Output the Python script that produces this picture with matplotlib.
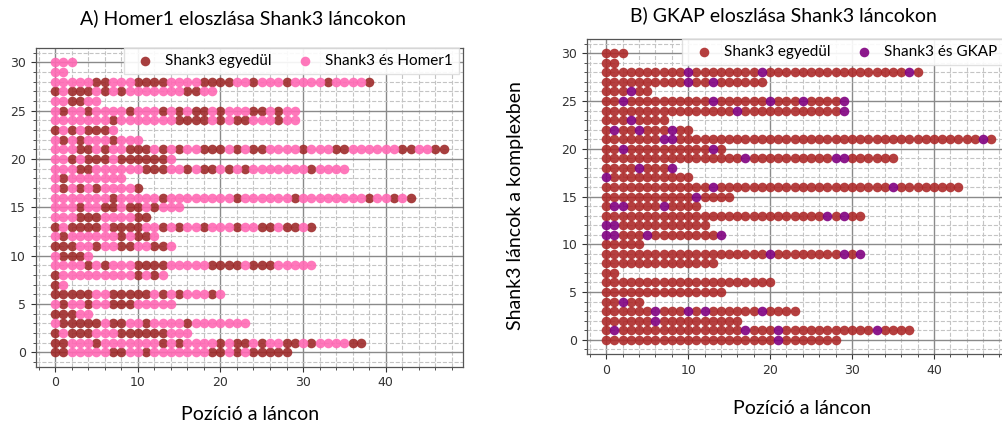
import matplotlib
matplotlib.use("Agg")
import matplotlib.pyplot as plt
from matplotlib.ticker import MultipleLocator, AutoMinorLocator

# ---------------- data ----------------
chain_rows = list(range(31))
# number of Shank3 units in each chain (positions 0 .. length-1)
chain_lengths = [29, 38, 17, 24, 5, 15, 21, 2, 14, 32, 5, 15, 13, 32, 12, 16,
                 44, 11, 9, 36, 15, 48, 11, 8, 30, 30, 6, 20, 39, 2, 3]

# Panel A: positions where Shank3 is alone (no Homer1), per chain row
homer_alone_pos = [
    [0, 1, 7, 8, 11, 19, 20, 22, 24, 25, 26, 27, 28],
    [0, 1, 5, 13, 15, 20, 22, 23, 25, 28, 29, 31, 36, 37],
    [0, 2, 3, 4, 8, 9, 10, 11, 12, 13],
    [1, 2, 3, 4, 5, 7, 8, 11, 16],
    [0, 1, 2],
    [1, 4, 7, 8, 9],
    [0, 1, 2, 3, 4, 7, 8, 9, 10, 11, 13, 15, 19],
    [0],
    [0, 10, 12],
    [4, 6, 10, 11, 12, 13, 19, 20, 21, 22, 24, 25, 26],
    [1, 2, 3],
    [0, 1, 2, 5, 8, 9, 12, 13],
    [1, 8, 10, 11],
    [0, 2, 3, 4, 5, 7, 8, 9, 10, 13, 15, 18, 22, 25, 26, 28, 29, 31],
    [3, 4, 5, 10, 11],
    [3, 6, 7, 9, 10, 12],
    [7, 13, 22, 29, 38, 41, 43],
    [1, 3, 5, 10],
    [1],
    [3, 4, 11, 12, 13, 16, 18, 19, 21, 23, 31],
    [2, 4, 5, 6, 8, 9, 10, 11, 12, 13],
    [3, 4, 6, 9, 10, 11, 13, 15, 18, 19, 20, 22, 24, 25, 30, 34, 35, 42, 43, 46, 47],
    [1, 3, 7],
    [0, 2, 4, 5, 6],
    [7, 15, 16, 17, 18, 20, 22, 23, 27],
    [1, 4, 9, 13, 15, 17, 18, 20, 24, 25, 27],
    [2, 3],
    [0, 2, 3, 4, 6, 8, 16, 17],
    [5, 6, 10, 11, 12, 13, 18, 19, 20, 21, 24, 28, 33, 38],
    [],
    [],
]

# Panel B: positions where Shank3 is bound to GKAP, per chain row
gkap_bound_pos = [
    [21],
    [1, 17, 21, 33],
    [6],
    [6, 10, 12, 19],
    [2],
    [], [], [], [],
    [20, 29, 31],
    [],
    [0, 1, 5, 14],
    [0, 1],
    [27, 29],
    [1, 2, 7],
    [11],
    [13, 35],
    [0],
    [4, 8],
    [17, 28, 29],
    [2, 13],
    [7, 8, 46],
    [1, 4, 8],
    [3],
    [16, 29],
    [2, 13, 20, 24, 29],
    [3],
    [10, 13],
    [10, 19, 37],
    [],
    [],
]

label_alone = "Shank3 egyedül"
label_homer = "Shank3 és Homer1"
label_gkap = "Shank3 és GKAP"
title_a = "A) Homer1 eloszlása Shank3 láncokon"
title_b = "B) GKAP eloszlása Shank3 láncokon"
xlabel = "Pozíció a láncon"
ylabel = "Shank3 láncok a komplexben"

# ---------------- styling ----------------
c_alone_a = "#9e2a2a"
c_alone_b = "#ad2a2a"
c_homer = "#ff69b4"
c_gkap = "#800080"
txt_font = ["Lato", "DejaVu Sans"]
msize = 48
W, H = 1003, 429


def split(row_marks):
    """Return (unlisted x, y, listed x, y) over every chain position."""
    xo, yo, xl, yl = [], [], [], []
    for r, L in zip(chain_rows, chain_lengths):
        marks = set(row_marks[r])
        for p in range(L):
            if p in marks:
                xl.append(p); yl.append(r)
            else:
                xo.append(p); yo.append(r)
    return xo, yo, xl, yl


def style_axes(ax):
    xmax = max(chain_lengths) - 1
    ymax = max(chain_rows)
    ax.set_xlim(-0.05 * xmax, xmax * 1.05)
    ax.set_ylim(-0.05 * ymax, ymax * 1.05)
    ax.xaxis.set_major_locator(MultipleLocator(10))
    ax.yaxis.set_major_locator(MultipleLocator(5))
    ax.xaxis.set_minor_locator(AutoMinorLocator(5))
    ax.yaxis.set_minor_locator(AutoMinorLocator(5))
    ax.set_axisbelow(True)
    ax.grid(which="major", color="#8a8a8a", lw=1.0, ls="-")
    ax.grid(which="minor", color="#c4c4c4", lw=0.8, ls="--")
    ax.tick_params(which="both", labelsize=9, colors="#333333")
    for s in ax.spines.values():
        s.set_color("#555555")
        s.set_linewidth(0.9)


def add_legend(ax, handles, right_px, top_px):
    ax.legend(handles=handles, loc="upper right", ncol=2,
              bbox_to_anchor=(right_px / W, 1 - top_px / H), bbox_transform=fig.transFigure,
              prop={"family": txt_font, "size": 11}, borderaxespad=0.0,
              handletextpad=0.3, columnspacing=1.2, framealpha=0.9,
              edgecolor="#dddddd", fancybox=False)


fig = plt.figure(figsize=(10.03, 4.29), dpi=100)

# Panel A: listed = Shank3 alone (dark red); others bound to Homer1 (pink)
axA = fig.add_axes([0.0356, 0.1452, 0.4260, 0.7429])
xo, yo, xl, yl = split(homer_alone_pos)
hA1 = axA.scatter(xl, yl, s=msize, color=c_alone_a, alpha=0.9, lw=0, label=label_alone, zorder=3)
hA2 = axA.scatter(xo, yo, s=msize, color=c_homer, alpha=0.9, lw=0, label=label_homer, zorder=3)
style_axes(axA)
add_legend(axA, [hA1, hA2], 459, 48)

# Panel B: listed = bound to GKAP (purple); others Shank3 alone (dark red)
axB = fig.add_axes([0.5852, 0.1748, 0.4223, 0.7343])
xo, yo, xl, yl = split(gkap_bound_pos)
hB1 = axB.scatter(xo, yo, s=msize, color=c_alone_b, alpha=0.9, lw=0, label=label_alone, zorder=3)
hB2 = axB.scatter(xl, yl, s=msize, color=c_gkap, alpha=0.9, lw=0, label=label_gkap, zorder=3)
style_axes(axB)
add_legend(axB, [hB1, hB2], 1003, 39)

fig.text(243 / W, 1 - 18 / H, title_a, ha="center", va="center", fontsize=14, family=txt_font)
fig.text(783 / W, 1 - 15 / H, title_b, ha="center", va="center", fontsize=14, family=txt_font)
fig.text(250 / W, 1 - 415 / H, xlabel, ha="center", va="center", fontsize=14, family=txt_font)
fig.text(802 / W, 1 - 408 / H, xlabel, ha="center", va="center", fontsize=14, family=txt_font)
fig.text(515 / W, 1 - 206 / H, ylabel, ha="center", va="center", rotation=90, fontsize=14,
         family=txt_font)

fig.savefig("out.png", dpi=100)
